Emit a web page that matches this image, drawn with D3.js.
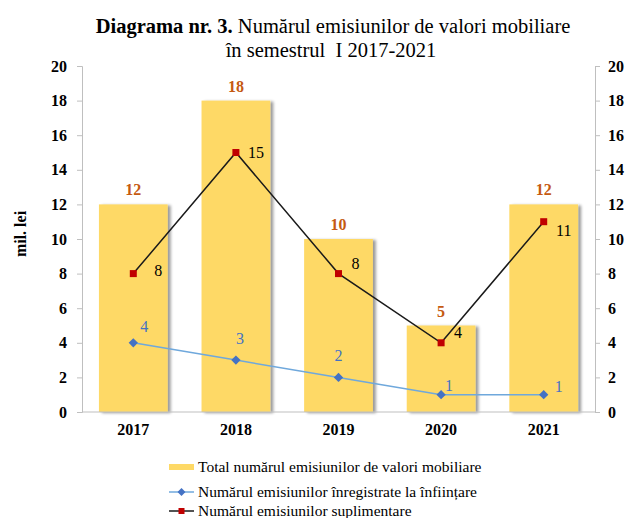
<!DOCTYPE html>
<html>
<head>
<meta charset="utf-8">
<script src="https://cdn.jsdelivr.net/npm/d3@7"></script>
<style>
  body { margin: 0; background: #fff; }
  svg text { font-family: "Liberation Serif", "Times New Roman", serif; }
</style>
</head>
<body>
<div id="chart"></div>
<script>
let years = ["2017", "2018", "2019", "2020", "2021"];
let total = [12, 18, 10, 5, 12];
let infiintare = [4, 3, 2, 1, 1];
let suplimentare = [8, 15, 8, 4, 11];
let yTicks = [0, 2, 4, 6, 8, 10, 12, 14, 16, 18, 20];

let width = 627, height = 518;
let margin = {top: 66, right: 32, bottom: 106, left: 82};
let serif = "'Liberation Serif', 'Times New Roman', serif";

let svg = d3.select("#chart").append("svg")
  .attr("width", width)
  .attr("height", height)
  .attr("font-family", serif);

let x = d3.scaleBand()
  .domain(years)
  .range([margin.left, width - margin.right])
  .paddingInner(0.33)
  .paddingOuter(0.165);

let y = d3.scaleLinear()
  .domain([0, 20])
  .range([height - margin.bottom, margin.top]);

let defs = svg.append("defs");
let filter = defs.append("filter").attr("id", "shadow")
  .attr("x", "-10%").attr("y", "-10%").attr("width", "130%").attr("height", "130%");
filter.append("feGaussianBlur").attr("in", "SourceAlpha").attr("stdDeviation", 1.5).attr("result", "blur");
filter.append("feOffset").attr("in", "blur").attr("dx", 2.5).attr("dy", 1).attr("result", "off");
filter.append("feComponentTransfer").attr("in", "off").attr("result", "offA")
  .append("feFuncA").attr("type", "linear").attr("slope", 0.4);
let merge = filter.append("feMerge");
merge.append("feMergeNode").attr("in", "offA");
merge.append("feMergeNode").attr("in", "SourceGraphic");

// title
let title = svg.append("text")
  .attr("x", 333).attr("y", 33)
  .attr("text-anchor", "middle")
  .style("font-family", serif)
  .style("font-size", "20.5px")
  .attr("fill", "#000");
title.append("tspan").style("font-weight", "bold").text("Diagrama nr. 3.");
title.append("tspan").text(" Numărul emisiunilor de valori mobiliare");
svg.append("text")
  .attr("x", 331).attr("y", 57)
  .attr("text-anchor", "middle")
  .style("font-family", serif)
  .style("font-size", "20.5px")
  .attr("xml:space", "preserve")
  .text("în semestrul  I 2017-2021");

// bars
svg.append("g").selectAll("rect")
  .data(total)
  .enter().append("rect")
  .attr("x", (d, i) => x(years[i]))
  .attr("y", d => y(d))
  .attr("width", x.bandwidth())
  .attr("height", d => y(0) - y(d))
  .attr("fill", "#FED966")
  .attr("filter", "url(#shadow)");

// axes
let leftAxis = svg.append("g")
  .attr("transform", `translate(${margin.left},0)`)
  .call(d3.axisLeft(y).tickValues(yTicks).tickSize(5).tickPadding(10));
let rightAxis = svg.append("g")
  .attr("transform", `translate(${width - margin.right},0)`)
  .call(d3.axisRight(y).tickValues(yTicks).tickSize(5).tickPadding(8));
let bottomAxis = svg.append("g")
  .attr("transform", `translate(0,${y(0)})`)
  .call(d3.axisBottom(x).tickSize(0).tickPadding(12));

[leftAxis, rightAxis, bottomAxis].forEach(a => {
  a.attr("font-family", serif);
  a.selectAll("path, line").attr("stroke", "#bfbfbf");
  a.selectAll("text")
    .style("font-family", serif)
    .style("font-size", "16px")
    .style("font-weight", "bold")
    .attr("fill", "#000");
});
bottomAxis.select(".domain").attr("d", `M${margin.left},0H${width - margin.right}`);

svg.append("text")
  .attr("transform", `translate(26,${y(10) - 5}) rotate(-90)`)
  .attr("text-anchor", "middle")
  .style("font-family", serif)
  .style("font-size", "16px")
  .style("font-weight", "bold")
  .text("mil. lei");

// total labels
svg.append("g").selectAll("text")
  .data(total)
  .enter().append("text")
  .attr("x", (d, i) => x(years[i]) + x.bandwidth() / 2)
  .attr("y", d => y(d) - 9)
  .attr("text-anchor", "middle")
  .style("font-family", serif)
  .style("font-size", "16px")
  .style("font-weight", "bold")
  .attr("fill", "#C55A11")
  .text(d => d);

let cx = i => x(years[i]) + x.bandwidth() / 2;

// blue line
let lineBlue = d3.line().x((d, i) => cx(i)).y(d => y(d));
svg.append("path")
  .attr("d", lineBlue(infiintare))
  .attr("fill", "none")
  .attr("stroke", "#6FA8DC")
  .attr("stroke-width", 1.5);
svg.append("g").selectAll("path")
  .data(infiintare)
  .enter().append("path")
  .attr("d", d3.symbol(d3.symbolDiamond2, 55))
  .attr("transform", (d, i) => `translate(${cx(i)},${y(d)})`)
  .attr("fill", "#4472C4");
let blueDx = [11, 4, 0, 8, 15];
let blueDy = [-11, -16, -16, -4, -3];
svg.append("g").selectAll("text")
  .data(infiintare)
  .enter().append("text")
  .attr("x", (d, i) => cx(i) + blueDx[i])
  .attr("y", (d, i) => y(d) + blueDy[i])
  .attr("text-anchor", "middle")
  .style("font-family", serif)
  .style("font-size", "16px")
  .attr("fill", "#4472C4")
  .text(d => d);

// black line
let lineBlack = d3.line().x((d, i) => cx(i)).y(d => y(d));
svg.append("path")
  .attr("d", lineBlack(suplimentare))
  .attr("fill", "none")
  .attr("stroke", "#1a1a1a")
  .attr("stroke-width", 1.5);
svg.append("g").selectAll("rect")
  .data(suplimentare)
  .enter().append("rect")
  .attr("x", (d, i) => cx(i) - 3.5)
  .attr("y", d => y(d) - 3.5)
  .attr("width", 7)
  .attr("height", 7)
  .attr("fill", "#C00000");
let blackDx = [25, 20, 17, 17, 20];
let blackDy = [2, 5, -5, -5, 14];
svg.append("g").selectAll("text")
  .data(suplimentare)
  .enter().append("text")
  .attr("x", (d, i) => cx(i) + blackDx[i])
  .attr("y", (d, i) => y(d) + blackDy[i])
  .style("font-family", serif)
  .style("font-size", "16px")
  .attr("fill", "#000")
  .attr("text-anchor", "middle")
  .text(d => d);

// legend
let legend = svg.append("g").attr("transform", "translate(169,0)");
legend.append("rect")
  .attr("x", 0).attr("y", 464).attr("width", 25).attr("height", 6)
  .attr("fill", "#FED966");
legend.append("line")
  .attr("x1", 0).attr("x2", 25).attr("y1", 492).attr("y2", 492)
  .attr("stroke", "#6FA8DC").attr("stroke-width", 1.5);
legend.append("path")
  .attr("d", d3.symbol(d3.symbolDiamond2, 40))
  .attr("transform", "translate(12.5,492)")
  .attr("fill", "#4472C4");
legend.append("line")
  .attr("x1", 0).attr("x2", 25).attr("y1", 511).attr("y2", 511)
  .attr("stroke", "#1a1a1a").attr("stroke-width", 1.5);
legend.append("rect")
  .attr("x", 9.5).attr("y", 508).attr("width", 6).attr("height", 6)
  .attr("fill", "#C00000");
let legendLabels = ["Total numărul emisiunilor de valori mobiliare",
  "Numărul emisiunilor înregistrate la înființare",
  "Numărul emisiunilor suplimentare"];
let legendY = [472, 497, 516];
legend.selectAll("text.leg")
  .data(legendLabels)
  .enter().append("text")
  .attr("class", "leg")
  .attr("x", 29)
  .attr("y", (d, i) => legendY[i])
  .style("font-family", serif)
  .style("font-size", "15.5px")
  .text(d => d);
</script>
</body>
</html>
